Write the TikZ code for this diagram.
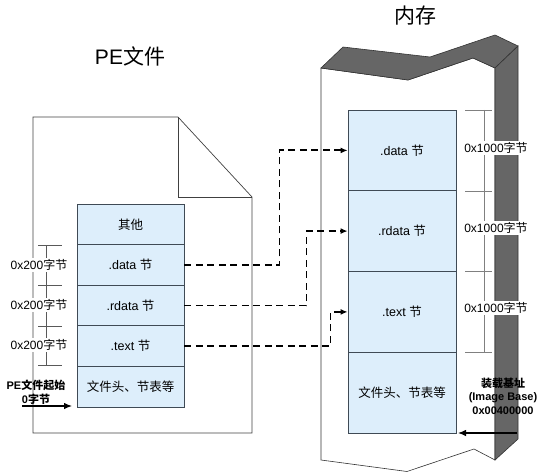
\documentclass[tikz,border=0pt]{standalone}
\usepackage{fontspec}
\setmainfont{Liberation Sans}
\newfontfamily\cjk{Noto Sans CJK SC}
\usetikzlibrary{arrows.meta}
\definecolor{boxfill}{HTML}{DDEEFB}
\definecolor{boxline}{HTML}{3F4A55}
\definecolor{memdark}{HTML}{666666}
\begin{document}
\begin{tikzpicture}[x=1pt,y=-1pt,
  lbox/.style={draw=boxline, fill=boxfill, line width=0.8pt, minimum width=107pt, minimum height=40.6pt, inner sep=0pt, font=\fontsize{12.5}{15}\selectfont},
  mbox/.style={draw=boxline, fill=boxfill, line width=0.8pt, minimum width=108pt, minimum height=80.75pt, inner sep=0pt, font=\fontsize{12.5}{15}\selectfont},
  outline/.style={draw=black!75, line width=0.7pt},
  conn/.style={line width=1.8pt, dash pattern=on 7pt off 4.5pt, -{Latex[length=7pt,width=6pt]}},
  dimlbl/.style={fill=white, inner sep=1pt, font=\fontsize{12}{14}\selectfont},
  tickline/.style={draw=black!65, line width=0.6pt},
  boldlbl/.style={align=center, inner sep=0pt, font=\bfseries\fontsize{11}{13.5}\selectfont},
  titlelbl/.style={inner sep=0pt, font=\fontsize{21}{24}\selectfont},
  solidarrow/.style={line width=1.1pt, -{Latex[length=8pt,width=6.5pt]}}]

\useasboundingbox (0,0) rectangle (540,473);

% PE file outline
\draw[outline] (33,117) -- (178,117) -- (252,197) -- (252,433) -- (33,433) -- cycle;
\draw[outline] (178,117) -- (178,197) -- (252,197);

% memory block
\filldraw[draw=black!80, fill=white, line width=0.6pt] (321,68) -- (408,80) -- (473,58) -- (495,68) -- (495,460) -- (474,449) -- (407,471.5) -- (321,460) -- cycle;
\filldraw[fill=memdark, draw=black!80, line width=0.6pt] (321,68) -- (343,47) -- (430,57) -- (495,35) -- (518,46) -- (495,68) -- (473,58) -- (408,80) -- cycle;
\filldraw[fill=memdark, draw=black!80, line width=0.6pt] (495,68) -- (518,46) -- (518,439) -- (495,460) -- cycle;

% titles
\node[titlelbl] (tpe) at (130,56) {PE{\cjk 文件}};
\node[titlelbl] (tmem) at (415,16) {{\cjk 内存}};

% left boxes
\node[lbox] (lother) at (130.5,224.3) {{\cjk 其他}};
\node[lbox] (ldata)  at (130.5,264.9) {.data {\cjk 节}};
\node[lbox] (lrdata) at (130.5,305.5) {.rdata {\cjk 节}};
\node[lbox] (ltext)  at (130.5,346.1) {.text {\cjk 节}};
\node[lbox] (lhdr)   at (130.5,386.7) {{\cjk 文件头、节表等}};

% memory boxes
\node[mbox] (mdata)  at (402,150.4) {.data {\cjk 节}};
\node[mbox] (mrdata) at (402,231.1) {.rdata {\cjk 节}};
\node[mbox] (mtext)  at (402,311.9) {.text {\cjk 节}};
\node[mbox] (mhdr)   at (402,392.6) {{\cjk 文件头、节表等}};

% left dimension
\foreach \y in {245,285,326,365} \draw[tickline] (38,\y) -- (62,\y);
\draw[tickline] (46,245) -- (46,365);
\node[dimlbl] (ld1) at (39,265) {0x200{\cjk 字节}};
\node[dimlbl] (ld2) at (39,305) {0x200{\cjk 字节}};
\node[dimlbl] (ld3) at (39,345) {0x200{\cjk 字节}};

% right dimension
\foreach \y in {110,191,271,352} \draw[tickline, draw=gray] (465,\y) -- (492,\y);
\draw[tickline, draw=gray] (484,110) -- (484,352);
\node[dimlbl] (rd1) at (496,148) {0x1000{\cjk 字节}};
\node[dimlbl] (rd2) at (496,228) {0x1000{\cjk 字节}};
\node[dimlbl] (rd3) at (496,308) {0x1000{\cjk 字节}};

% connectors
\draw[conn] (ldata.east) -- ++(95,0) |- (mdata.west);
\draw[conn] (lrdata.east) -- ++(122,0) |- (mrdata.west);
\draw[conn] (ltext.east) -- ++(146,0) |- (mtext.west);

% file start
\node[boldlbl] (pestartlbl) at (36,392) {PE{\cjk 文件起始}\\0{\cjk 字节}};
\coordinate (pes) at (22,406);
\coordinate (pee) at (72,406);
\draw[solidarrow] (pes) -- (pee);

% image base
\node[boldlbl] (iblbl) at (503,396) {{\cjk 装载基址}\\(Image Base)\\0x00400000};
\coordinate (ibs) at (517,433);
\coordinate (ibe) at (458,433);
\draw[solidarrow] (ibs) -- (ibe);
\end{tikzpicture}
\end{document}
